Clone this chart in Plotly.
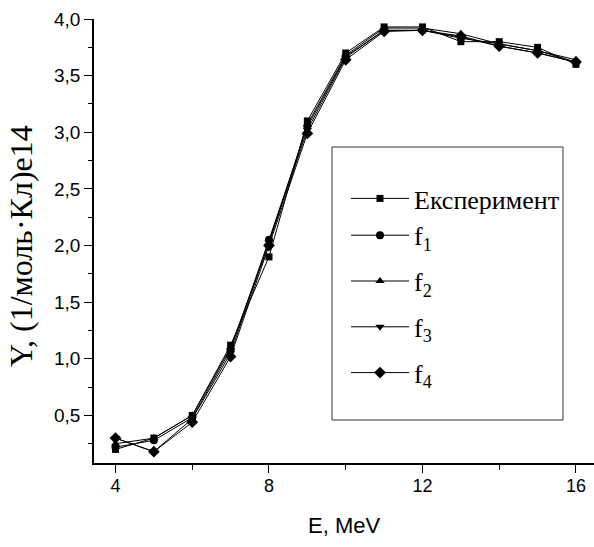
import plotly.graph_objects as go

energy = [4, 5, 6, 7, 8, 9, 10, 11, 12, 13, 14, 15, 16]
experiment = [0.20, 0.30, 0.50, 1.12, 1.90, 3.10, 3.70, 3.93, 3.93, 3.80, 3.80, 3.75, 3.60]
f1 = [0.22, 0.28, 0.48, 1.08, 2.05, 3.05, 3.67, 3.90, 3.90, 3.83, 3.78, 3.72, 3.62]
f2 = [0.25, 0.30, 0.50, 1.10, 2.02, 3.07, 3.68, 3.92, 3.92, 3.87, 3.78, 3.72, 3.64]
f3 = [0.30, 0.18, 0.47, 1.05, 2.03, 3.02, 3.66, 3.90, 3.90, 3.84, 3.76, 3.70, 3.62]
f4 = [0.30, 0.18, 0.44, 1.02, 2.00, 2.99, 3.64, 3.89, 3.90, 3.85, 3.76, 3.70, 3.62]

series_names = ["Експеримент", "f<sub>1</sub>", "f<sub>2</sub>", "f<sub>3</sub>", "f<sub>4</sub>"]
series_values = [experiment, f1, f2, f3, f4]
symbols = ["square", "circle", "triangle-up", "triangle-down", "diamond"]
sizes = [7, 8, 8, 8, 9]
legend_groups = ["a", "a", "b", "c", "d"]

x_ticks = [4, 8, 12, 16]
y_ticks = [0.5, 1.0, 1.5, 2.0, 2.5, 3.0, 3.5, 4.0]

W, H = 594, 547
L, R, T, B = 94, 0, 19, 84
pw, ph = W - L - R, H - T - B

SANS = "Liberation Sans, Arial, sans-serif"
SERIF = "Liberation Serif, Times New Roman, serif"

fig = go.Figure()
for name, vals, sym, sz, grp in zip(series_names, series_values, symbols, sizes, legend_groups):
    fig.add_trace(go.Scatter(
        x=energy, y=vals, name=name, mode="lines+markers", legendgroup=grp,
        line=dict(color="black", width=1),
        marker=dict(symbol=sym, size=sz, color="black"),
    ))

def px_x(p):
    return (p - L) / pw

def px_y(p):
    return (H - B - p) / ph

fig.update_layout(
    width=W, height=H,
    margin=dict(l=L, r=R, t=T, b=B, pad=0),
    paper_bgcolor="white", plot_bgcolor="white",
    separators=", ",
    showlegend=True,
    legend=dict(
        x=px_x(346), y=px_y(175), xanchor="left", yanchor="top",
        bgcolor="rgba(0,0,0,0)", borderwidth=0,
        font=dict(family=SERIF, size=26, color="black"),
        itemwidth=58, tracegroupgap=9, groupclick="toggleitem",
    ),
    xaxis=dict(
        range=[3.44, 16.47], tickvals=x_ticks, ticktext=[str(v) for v in x_ticks],
        showgrid=False, zeroline=False, showline=True, linecolor="black", linewidth=1.5,
        ticks="outside", ticklen=8, tickwidth=1.2, tickcolor="black",
        minor=dict(dtick=2, tick0=0, ticks="outside", ticklen=5, tickwidth=1.2, tickcolor="black"),
        tickfont=dict(family=SANS, size=18, color="black"),
        ticklabelstandoff=-2, ticklabeloverflow="allow",
    ),
    yaxis=dict(
        range=[0.08, 4.0], tickvals=y_ticks, tickformat=".1f",
        showgrid=False, zeroline=False, showline=True, linecolor="black", linewidth=1.5,
        ticks="outside", ticklen=8, tickwidth=1.2, tickcolor="black",
        minor=dict(dtick=0.25, tick0=0, ticks="outside", ticklen=4, tickwidth=1.2, tickcolor="black"),
        tickfont=dict(family=SANS, size=19, color="black"),
        ticklabeloverflow="allow",
    ),
    shapes=[dict(
        type="rect", xref="paper", yref="paper",
        x0=px_x(332), x1=px_x(563), y0=px_y(420), y1=px_y(147),
        line=dict(color="#333333", width=1), fillcolor="rgba(0,0,0,0)", layer="below",
    )],
    annotations=[
        dict(text="E, MeV", xref="paper", yref="paper", x=0.5, y=px_y(525),
             xanchor="center", yanchor="middle", showarrow=False,
             font=dict(family=SANS, size=22, color="black")),
        dict(text="Y, (1/моль·Кл)е14", xref="paper", yref="paper", x=px_x(21), y=px_y(246),
             xanchor="center", yanchor="middle", showarrow=False, textangle=-90,
             font=dict(family=SERIF, size=32, color="black")),
    ],
)

fig.write_html(
    "out.html",
    config={"displayModeBar": False},
    post_script="document.body.style.margin='0';document.body.style.overflow='hidden';",
)
